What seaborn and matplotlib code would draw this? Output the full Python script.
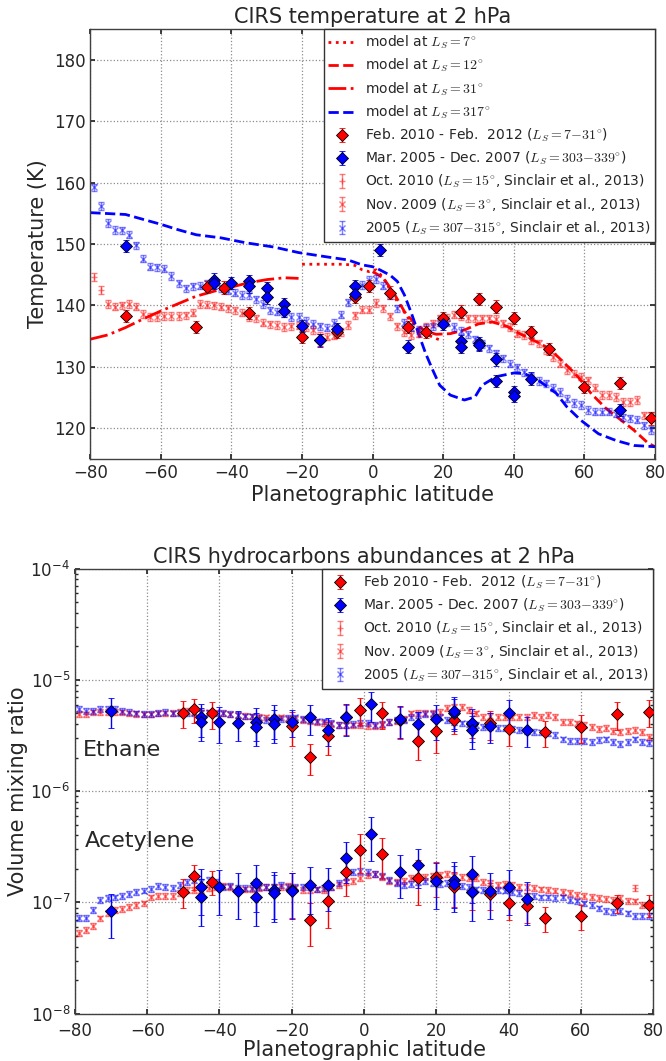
import numpy as np
import matplotlib
matplotlib.use("Agg")
import matplotlib.pyplot as plt
import seaborn as sns

# Sinclair et al. (2013) latitude grid
lat_grid = np.arange(-79, 80, 2)

# ---------------- temperature at 2 hPa ----------------
t_2005 = [159.2, 156.2, 153.4, 152.3, 152.2, 151.5, 149.8, 147.6, 146.3, 146.2,
          146.0, 144.8, 143.6, 142.8, 143.1, 143.2, 143.6, 143.4, 142.8, 142.4,
          142.1, 141.7, 141.7, 141.0, 140.2, 139.2, 139.0, 138.7, 138.1, 138.1,
          137.5, 137.0, 136.6, 136.4, 137.2, 138.5, 140.5, 142.2, 143.3, 144.2,
          144.3, 143.2, 141.7, 139.5, 137.2, 136.4, 136.0, 136.3, 136.6, 137.2,
          137.2, 136.5, 135.9, 135.3, 134.5, 133.7, 133.0, 132.2, 131.4, 130.5,
          129.9, 129.1, 128.4, 127.7, 127.3, 126.6, 125.9, 124.8, 124.1, 123.8,
          123.0, 122.7, 122.7, 122.7, 122.4, 121.8, 121.6, 121.4, 120.5, 119.7]
t_nov2009 = [140.2, 139.8, 140.0, 140.2, 139.8, 138.6, 138.1, 138.1,
             138.3, 138.3, 138.3, 138.4, 138.8, 140.2, 140.1, 140.0, 139.8, 139.5,
             139.2, 138.8, 138.1, 137.9, 137.2, 136.9, 136.8, 136.5, 136.6, 136.7,
             136.5, 136.0, 135.1, 134.9, 135.1, 135.7, 136.8, 138.4, 139.3, 139.3,
             140.4, 139.5, 138.2, 136.6, 135.7, 135.2, 135.4, 136.5, 137.1, 137.9,
             138.0, 138.5, 138.2, 137.9, 137.9, 137.9, 137.9, 137.8, 137.1, 136.5,
             135.4, 135.2, 134.3, 133.8, 132.7, 131.6, 130.5, 129.5, 128.9, 128.4,
             127.8, 126.6, 125.4, 125.4, 125.1, 124.3, 124.3, 124.6, 122.1, 122.1]
lat_oct2010_t = [-79, -77]
t_oct2010 = [144.6, 142.5]

lat_feb2010_t = [-70, -50, -47, -42, -35, -20, -15, -10, -5, -1, 5, 10, 15, 20,
                 25, 30, 35, 40, 45, 50, 60, 70, 79]
t_feb2010 = [138.3, 136.5, 143.0, 142.9, 138.8, 134.8, 134.4, 135.7, 141.4, 143.2,
             142.1, 136.5, 135.7, 137.9, 139.0, 141.1, 139.8, 138.0, 135.7, 132.9,
             126.7, 127.4, 121.6]
lat_mar2005_t = [-70, -45, -45, -40, -35, -35, -30, -30, -25, -25, -20, -15, -10,
                 -5, -5, 2, 10, 20, 25, 25, 30, 30, 35, 35, 40, 40, 45, 70]
t_mar2005 = [149.7, 144.2, 143.6, 143.7, 143.9, 143.1, 142.8, 141.3, 140.2, 139.1,
             136.6, 134.3, 136.2, 143.1, 141.9, 149.0, 133.3, 137.0, 134.2, 133.3,
             133.8, 133.5, 131.2, 127.7, 125.9, 125.2, 128.1, 123.0]

# model curves
lat_ls7 = [-20, -16, -12, -8, -5, -3, -1, 1, 3, 6, 10, 14, 18, 20]
t_ls7 = [146.7, 146.7, 146.7, 146.7, 146.5, 145.8, 145.5, 145.8, 144.5, 141.5,
         138.0, 135.6, 134.6, 134.2]
lat_ls12 = [0, 3, 6, 9, 12, 15, 18, 22, 26, 30, 34, 38, 42, 46, 50, 54, 58, 62,
            66, 70, 74, 78, 80]
t_ls12 = [145.5, 144.5, 142.0, 139.0, 137.0, 135.8, 135.3, 135.4, 136.0, 137.0,
          137.3, 136.6, 135.3, 134.2, 133.0, 130.8, 128.5, 125.6, 123.3, 121.5,
          119.7, 117.6, 117.0]
lat_ls31 = [-80, -75, -70, -65, -60, -55, -50, -45, -40, -35, -30, -25, -21]
t_ls31 = [134.5, 135.2, 136.4, 137.8, 139.1, 140.3, 141.5, 142.3, 143.0, 143.7,
          144.2, 144.5, 144.4]
lat_ls317 = [-80, -70, -65, -60, -55, -50, -43, -36, -28, -21, -13, -7, -3, 0, 2,
             5, 7, 9, 11, 13, 15, 17, 19, 22, 26, 29, 31, 35, 40, 43, 47, 52, 55,
             59, 64, 69, 74, 80]
t_ls317 = [155.1, 154.8, 154.0, 153.2, 152.3, 151.5, 151.0, 150.2, 149.5, 148.6,
           147.9, 147.4, 146.6, 146.3, 145.8, 144.9, 143.9, 141.7, 138.7, 135.4,
           132.2, 129.5, 127.0, 125.4, 124.6, 125.1, 127.0, 128.4, 129.0, 128.9,
           127.8, 125.7, 123.5, 121.3, 119.1, 118.0, 117.2, 117.0]

# ---------------- hydrocarbons at 2 hPa ----------------
c2h6_2005 = [5.46, 5.3, 5.3, 5.46, 5.46, 5.46, 5.3, 5.2, 5.0, 4.96,
             4.96, 5.09, 5.2, 5.0, 5.09, 5.09, 5.09, 5.09, 5.09, 5.0,
             5.09, 4.96, 4.86, 4.70, 4.70, 4.54, 4.38, 4.38, 4.45, 4.54,
             4.6, 4.45, 4.38, 4.24, 4.24, 4.09, 3.95, 3.95, 4.02, 4.09,
             4.09, 3.94, 4.0, 4.2, 4.37, 4.4, 4.68, 4.84, 4.95, 4.95,
             4.68, 4.37, 4.2, 4.07, 4.0, 3.94, 3.80, 3.75, 3.68, 3.68,
             3.6, 3.55, 3.48, 3.43, 3.37, 3.31, 3.20, 2.92, 2.84, 2.84,
             2.84, 2.75, 2.88, 2.92, 2.78, 2.66, 2.78, 2.92, 2.75, 2.7]
c2h6_nov2009 = [4.95, 4.9, 5.1, 5.15, 5.2, 5.2, 5.1, 5.0, 4.95, 4.9,
                4.9, 5.0, 5.0, 5.05, 5.2, 5.25, 5.2, 5.1, 5.1, 5.1,
                5.0, 4.9, 4.8, 4.75, 4.7, 4.65, 4.6, 4.55, 4.6, 4.5,
                4.45, 4.4, 4.3, 4.2, 4.1, 4.0, 3.95, 3.9, 3.9, 3.9,
                3.88, 3.86, 3.94, 4.22, 4.31, 4.43, 5.01, 5.08, 5.08, 5.08,
                5.19, 5.56, 5.68, 5.75, 5.37, 5.01, 4.68, 4.78, 4.68, 4.61,
                4.61, 4.68, 4.68, 4.84, 4.68, 4.84, 4.68, 4.22, 4.22, 4.07,
                3.94, 3.80, 3.60, 3.68, 3.50, 3.43, 3.50, 3.55, 3.43, 3.09]
c2h2_2005 = [0.72, 0.72, 0.855, 1.05, 1.09, 1.11, 1.14, 1.19, 1.25, 1.28,
             1.33, 1.41, 1.37, 1.34, 1.44, 1.54, 1.59, 1.54, 1.59, 1.54,
             1.39, 1.41, 1.34, 1.34, 1.34, 1.39, 1.39, 1.39, 1.44, 1.39,
             1.39, 1.37, 1.37, 1.31, 1.34, 1.37, 1.49, 1.71, 1.89, 1.93,
             1.89, 1.80, 1.73, 1.59, 1.49, 1.44, 1.47, 1.54, 1.57, 1.49,
             1.47, 1.49, 1.44, 1.41, 1.37, 1.31, 1.29, 1.28, 1.29, 1.28,
             1.25, 1.21, 1.14, 1.14, 1.11, 1.11, 1.09, 1.11, 1.05, 1.02,
             0.98, 0.948, 0.885, 0.843, 0.826, 0.843, 0.798, 0.755, 0.755, 0.755]
c2h2_nov2009 = [0.528, 0.565, 0.614, 0.719, 0.798, 0.855, 0.87, 0.904, 0.948, 0.98,
                1.11, 1.14, 1.14, 1.14, 1.21, 1.29, 1.29, 1.29, 1.34, 1.37,
                1.41, 1.37, 1.29, 1.31, 1.31, 1.34, 1.37, 1.37, 1.39, 1.41,
                1.34, 1.29, 1.29, 1.31, 1.29, 1.37, 1.44, 1.54, 1.57, 1.65,
                1.75, 1.80, 1.71, 1.57, 1.54, 1.57, 1.65, 1.71, 1.71, 1.73,
                1.77, 1.80, 1.73, 1.71, 1.65, 1.65, 1.54, 1.49, 1.44, 1.47,
                1.44, 1.39, 1.37, 1.34, 1.31, 1.29, 1.28, 1.25, 1.21, 1.17,
                1.14, 1.12, 1.09, 1.07, 1.05, 1.09, 1.04, 1.02, 0.95, 0.95]
lat_oct2010_c2h2 = [75]
c2h2_oct2010 = [1.36]

lat_feb2010_c2h6 = [-50, -47, -42, -20, -15, -10, -5, -1, 5, 10, 15, 20, 25, 30,
                    35, 40, 50, 60, 70, 79]
c2h6_feb2010 = [5.08, 5.44, 5.0, 3.86, 2.02, 3.15, 4.6, 5.37, 5.0, 4.37, 2.84, 3.48,
                4.37, 4.03, 4.07, 3.63, 3.39, 3.77, 4.9, 5.19]
c2h6_feb2010_err = [0.27, 0.25, 0.27, 0.34, 0.31, 0.33, 0.3, 0.27, 0.27, 0.32, 0.33,
                    0.37, 0.26, 0.26, 0.29, 0.3, 0.26, 0.28, 0.28, 0.28]
lat_feb2010_c2h2 = [-50, -47, -42, -20, -15, -10, -5, -1, 5, 15, 20, 25, 30, 35, 40,
                    45, 50, 60, 70, 79]
c2h2_feb2010 = [1.25, 1.73, 1.54, 1.29, 0.695, 1.02, 1.89, 2.96, 2.73, 1.67, 1.71,
                1.39, 1.25, 1.18, 0.99, 0.93, 0.73, 0.755, 0.99, 0.95]
c2h2_feb2010_err = [0.29, 0.26, 0.25, 0.44, 0.42, 0.42, 0.4, 0.38, 0.39, 0.43, 0.34,
                    0.34, 0.31, 0.27, 0.3, 0.3, 0.25, 0.25, 0.18, 0.22]

lat_mar2005_c = [-70, -45, -45, -40, -35, -30, -30, -25, -25, -20, -15, -10, -5, 2,
                 10, 15, 20, 25, 25, 30, 30, 35, 40, 45]
c2h6_mar2005 = [5.29, 4.6, 4.2, 4.2, 4.07, 4.22, 3.80, 4.43, 4.03, 4.22, 4.61, 3.55,
                4.61, 6.04, 4.43, 4.03, 4.43, 5.08, 5.29, 4.13, 3.55, 3.86, 5.08, 3.55]
c2h6_mar2005_err = [0.3, 0.33, 0.33, 0.36, 0.3, 0.33, 0.33, 0.33, 0.33, 0.28, 0.3,
                    0.28, 0.32, 0.3, 0.32, 0.28, 0.35, 0.32, 0.32, 0.33, 0.33, 0.3,
                    0.3, 0.3]
c2h2_mar2005 = [0.837, 1.39, 1.11, 1.37, 1.28, 1.49, 1.12, 1.29, 1.21, 1.27, 1.44,
                1.44, 2.49, 4.12, 1.89, 2.17, 1.56, 1.60, 1.47, 1.80, 1.25, 1.27,
                1.37, 1.08]
c2h2_mar2005_err = [0.43, 0.45, 0.45, 0.44, 0.44, 0.45, 0.45, 0.45, 0.45, 0.44, 0.45,
                    0.42, 0.4, 0.43, 0.42, 0.38, 0.44, 0.44, 0.44, 0.45, 0.45, 0.44,
                    0.44, 0.42]

RED = "#ff0000"
BLUE = "#0000ff"

sns.set_theme(style="ticks", color_codes=False, rc={
    "xtick.direction": "in", "ytick.direction": "in",
    "xtick.top": True, "ytick.right": True,
    "xtick.major.size": 3.5, "ytick.major.size": 3.5,
    "xtick.minor.size": 2, "ytick.minor.size": 2,
    "axes.edgecolor": "0.25", "axes.linewidth": 1.0,
    "axes.grid": True, "grid.linestyle": ":", "grid.color": "0.55",
    "grid.linewidth": 0.9,
    "legend.frameon": True, "legend.fancybox": False, "legend.edgecolor": "0.2",
    "legend.framealpha": 1.0,
    "mathtext.fontset": "cm",
})
plt.rcParams["font.family"] = ["DejaVu Sans"]

fig = plt.figure(figsize=(6.66, 10.61), dpi=100)
ax1 = fig.add_axes([0.1356, 0.5674, 0.8479, 0.4053])
ax2 = fig.add_axes([0.1126, 0.0446, 0.8679, 0.4194])

sinclair_kw = dict(alpha=0.5, ms=4, mew=1, capsize=2.5, elinewidth=1, capthick=1)
diamond_kw = dict(fmt="D", ms=6.3, mec="k", mew=0.6, capsize=2.5, elinewidth=1,
                  capthick=1, zorder=6)

# --- top panel ---
sns.lineplot(x=lat_ls7, y=t_ls7, ax=ax1, color=RED, linestyle=":", lw=2,
             label=r"model at $L_S=7^{\circ}$")
sns.lineplot(x=lat_ls12, y=t_ls12, ax=ax1, color=RED, linestyle="--", lw=2,
             label=r"model at $L_S=12^{\circ}$")
sns.lineplot(x=lat_ls31, y=t_ls31, ax=ax1, color=RED, linestyle="-.", lw=2,
             label=r"model at $L_S=31^{\circ}$")
sns.lineplot(x=lat_ls317, y=t_ls317, ax=ax1, color=BLUE, linestyle="--", lw=2,
             label=r"model at $L_S=317^{\circ}$")
line_handles = ax1.get_legend_handles_labels()

h_oct = ax1.errorbar(lat_oct2010_t, t_oct2010, yerr=0.6, fmt="+", color=RED,
                     **sinclair_kw)
h_nov = ax1.errorbar(lat_grid[2:], t_nov2009, yerr=0.6, fmt="x", color=RED,
                     **sinclair_kw)
h_05 = ax1.errorbar(lat_grid, t_2005, yerr=0.6, fmt="x", color=BLUE, **sinclair_kw)
h_feb = ax1.errorbar(lat_feb2010_t, t_feb2010, yerr=1.0, color=RED, ecolor=RED,
                     **diamond_kw)
h_mar = ax1.errorbar(lat_mar2005_t, t_mar2005, yerr=1.0, color=BLUE, ecolor=BLUE,
                     **diamond_kw)

leg_kw = dict(loc="upper right", fontsize=10, numpoints=1, borderaxespad=0,
              handlelength=2.0, handletextpad=0.6, borderpad=0.35,
              labelspacing=0.42)
sinclair_labels = [r"Oct. 2010 ($L_S=15^{\circ}$, Sinclair et al., 2013)",
                   r"Nov. 2009 ($L_S=3^{\circ}$, Sinclair et al., 2013)",
                   r"2005 ($L_S=307{-}315^{\circ}$, Sinclair et al., 2013)"]
ax1.legend(line_handles[0] + [h_feb, h_mar, h_oct, h_nov, h_05],
           line_handles[1] + [r"Feb. 2010 - Feb.  2012 ($L_S=7{-}31^{\circ}$)",
                              r"Mar. 2005 - Dec. 2007 ($L_S=303{-}339^{\circ}$)"]
           + sinclair_labels, **leg_kw)

ax1.set_xlim(-80, 80)
ax1.set_ylim(115, 185)
ax1.set_xticks([-80, -60, -40, -20, 0, 20, 40, 60, 80])
ax1.set_yticks([120, 130, 140, 150, 160, 170, 180])
ax1.tick_params(labelsize=12)
ax1.set_title("CIRS temperature at 2 hPa", fontsize=15, pad=4)
ax1.set_xlabel("Planetographic latitude", fontsize=15, labelpad=2)
ax1.set_ylabel("Temperature (K)", fontsize=15, labelpad=4)

# --- bottom panel ---
r6 = np.array(c2h6_nov2009) * 1e-6
r2 = np.array(c2h2_nov2009) * 1e-7
b6 = np.array(c2h6_2005) * 1e-6
b2 = np.array(c2h2_2005) * 1e-7
g_oct = ax2.errorbar(lat_oct2010_c2h2, np.array(c2h2_oct2010) * 1e-7,
                     yerr=np.array(c2h2_oct2010) * 1e-7 * 0.06, fmt="+", color=RED,
                     **sinclair_kw)
g_nov = ax2.errorbar(lat_grid, r6, yerr=r6 * 0.06, fmt="x", color=RED, **sinclair_kw)
ax2.errorbar(lat_grid, r2, yerr=r2 * 0.06, fmt="x", color=RED, **sinclair_kw)
g_05 = ax2.errorbar(lat_grid, b6, yerr=b6 * 0.06, fmt="x", color=BLUE, **sinclair_kw)
ax2.errorbar(lat_grid, b2, yerr=b2 * 0.06, fmt="x", color=BLUE, **sinclair_kw)

v = np.array(c2h6_feb2010) * 1e-6
g_feb = ax2.errorbar(lat_feb2010_c2h6, v, yerr=v * np.array(c2h6_feb2010_err),
                     color=RED, ecolor=RED, **diamond_kw)
v = np.array(c2h2_feb2010) * 1e-7
ax2.errorbar(lat_feb2010_c2h2, v, yerr=v * np.array(c2h2_feb2010_err),
             color=RED, ecolor=RED, **diamond_kw)
v = np.array(c2h6_mar2005) * 1e-6
g_mar = ax2.errorbar(lat_mar2005_c, v, yerr=v * np.array(c2h6_mar2005_err),
                     color=BLUE, ecolor=BLUE, **diamond_kw)
v = np.array(c2h2_mar2005) * 1e-7
ax2.errorbar(lat_mar2005_c, v, yerr=v * np.array(c2h2_mar2005_err),
             color=BLUE, ecolor=BLUE, **diamond_kw)

ax2.legend([g_feb, g_mar, g_oct, g_nov, g_05],
           [r"Feb 2010 - Feb.  2012 ($L_S=7{-}31^{\circ}$)",
            r"Mar. 2005 - Dec. 2007 ($L_S=303{-}339^{\circ}$)"] + sinclair_labels,
           **leg_kw)

ax2.set_yscale("log")
ax2.set_xlim(-80, 80)
ax2.set_ylim(1e-8, 1e-4)
ax2.set_xticks([-80, -60, -40, -20, 0, 20, 40, 60, 80])
ax2.grid(True, which="major")
ax2.grid(False, which="minor")
ax2.tick_params(labelsize=12)
ax2.tick_params(axis="x", pad=6)
ax2.text(-77.8, 2.35e-6, "Ethane", fontsize=16, va="center", ha="left")
ax2.text(-77.3, 3.55e-7, "Acetylene", fontsize=16, va="center", ha="left")
ax2.set_title("CIRS hydrocarbons abundances at 2 hPa", fontsize=15, pad=4)
ax2.set_xlabel("Planetographic latitude", fontsize=15, labelpad=0)
ax2.set_ylabel("Volume mixing ratio", fontsize=15, labelpad=2)

fig.savefig("out.png", dpi=100)
